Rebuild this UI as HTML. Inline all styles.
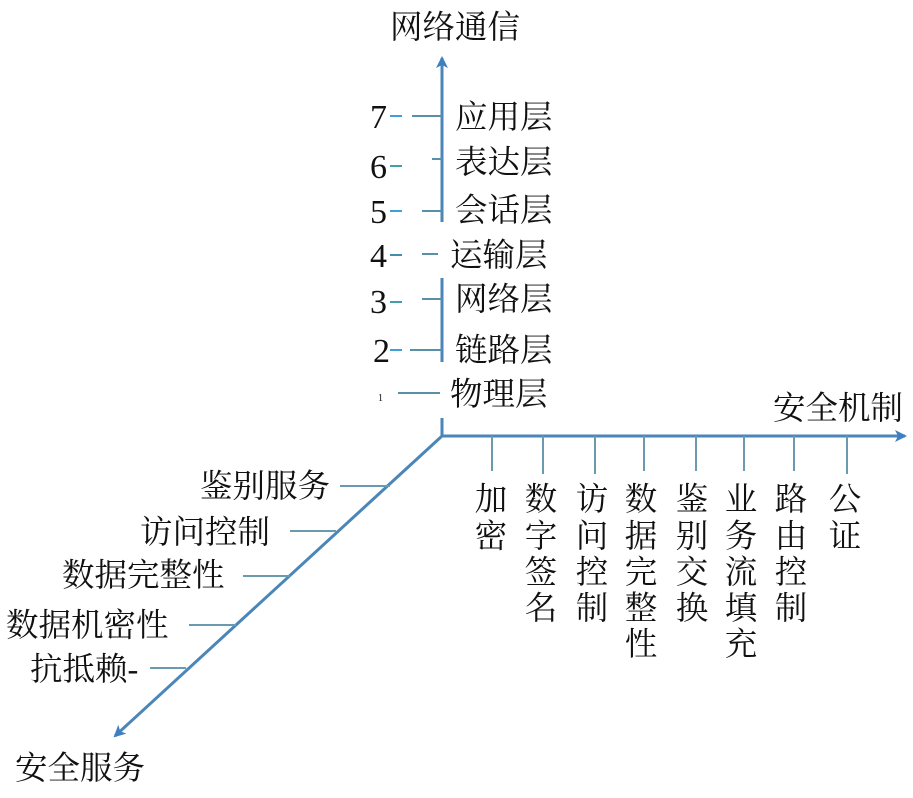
<!DOCTYPE html>
<html><head><meta charset="utf-8"><style>
html,body{margin:0;padding:0;background:#fff;}
svg text{font-family:"Liberation Serif","Noto Serif CJK SC",serif;fill:#111;}
</style></head><body>
<svg width="913" height="793" viewBox="0 0 913 793" xmlns="http://www.w3.org/2000/svg">
<defs>
<marker id="ah" markerWidth="12" markerHeight="12" refX="10" refY="6" orient="auto" markerUnits="userSpaceOnUse">
<path d="M0,0 L12,6 L0,12 L3,6 Z" fill="#3f7fc0"/></marker>
</defs>
<g stroke="#4a86b8" stroke-width="3" fill="none">
<line x1="442" y1="222" x2="442" y2="58" marker-end="url(#ah)"/>
<line x1="442" y1="278" x2="442" y2="362"/>
<line x1="442" y1="418" x2="442" y2="436"/>
<line x1="442" y1="436" x2="905" y2="436" marker-end="url(#ah)"/>
<line x1="442" y1="436" x2="115" y2="736" marker-end="url(#ah)"/>
</g>
<g stroke="#5a8fa8" stroke-width="2">
<line x1="412" y1="116" x2="442" y2="116"/>
<line x1="432" y1="159" x2="442" y2="159"/>
<line x1="422" y1="211" x2="442" y2="211"/>
<line x1="422" y1="254" x2="438" y2="254"/>
<line x1="422" y1="299" x2="442" y2="299"/>
<line x1="410" y1="350" x2="442" y2="350"/>
<line x1="398" y1="393" x2="440" y2="393"/>
<line x1="390" y1="116" x2="402" y2="116" stroke="#3fa0d8"/>
<line x1="390" y1="166" x2="402" y2="166" stroke="#3fa0a8"/>
<line x1="390" y1="211" x2="402" y2="211" stroke="#3fa0d8"/>
<line x1="390" y1="255" x2="402" y2="255" stroke="#3f90a8"/>
<line x1="390" y1="302" x2="402" y2="302" stroke="#3fa0a8"/>
<line x1="390" y1="350" x2="402" y2="350" stroke="#3fa0d8"/>
</g>
<g stroke="#6a9ab0" stroke-width="2">
<line x1="492" y1="436" x2="492" y2="471"/>
<line x1="543" y1="436" x2="543" y2="474"/>
<line x1="595" y1="436" x2="595" y2="474"/>
<line x1="644" y1="436" x2="644" y2="471"/>
<line x1="696" y1="436" x2="696" y2="471"/>
<line x1="744" y1="436" x2="744" y2="471"/>
<line x1="794" y1="436" x2="794" y2="471"/>
<line x1="847" y1="436" x2="847" y2="474"/>
<line x1="340" y1="486" x2="390" y2="486"/>
<line x1="290" y1="531" x2="336" y2="531"/>
<line x1="243" y1="576" x2="290" y2="576"/>
<line x1="189" y1="625" x2="236" y2="625"/>
<line x1="150" y1="668" x2="186" y2="668"/>
</g>
<g font-size="32.5">
<text x="390" y="38">网络通信</text>
<text x="455" y="128">应用层</text>
<text x="455" y="173">表达层</text>
<text x="455" y="221">会话层</text>
<text x="450" y="266">运输层</text>
<text x="455" y="310">网络层</text>
<text x="455" y="361">链路层</text>
<text x="450" y="405">物理层</text>
<text x="773" y="419">安全机制</text>
<text x="200" y="497">鉴别服务</text>
<text x="140" y="543">访问控制</text>
<text x="62" y="586">数据完整性</text>
<text x="6" y="636">数据机密性</text>
<text x="30" y="680">抗抵赖-</text>
<text x="15" y="779">安全服务</text>
</g>
<g font-size="34">
<text x="370" y="128">7</text>
<text x="370" y="178">6</text>
<text x="370" y="223">5</text>
<text x="370" y="267">4</text>
<text x="370" y="313">3</text>
<text x="373" y="362">2</text>
<text x="378" y="401" font-size="10">1</text>
</g>
<g font-size="32.5" text-anchor="middle">
<text x="491" y="510">加</text><text x="491" y="547">密</text>
<text x="541" y="510">数</text><text x="541" y="547">字</text><text x="541" y="583">签</text><text x="541" y="619">名</text>
<text x="592" y="510">访</text><text x="592" y="547">问</text><text x="592" y="583">控</text><text x="592" y="619">制</text>
<text x="641" y="510">数</text><text x="641" y="547">据</text><text x="641" y="583">完</text><text x="641" y="619">整</text><text x="641" y="655">性</text>
<text x="692" y="510">鉴</text><text x="692" y="547">别</text><text x="692" y="583">交</text><text x="692" y="619">换</text>
<text x="741" y="510">业</text><text x="741" y="547">务</text><text x="741" y="583">流</text><text x="741" y="619">填</text><text x="741" y="655">充</text>
<text x="791" y="510">路</text><text x="791" y="547">由</text><text x="791" y="583">控</text><text x="791" y="619">制</text>
<text x="845" y="510">公</text><text x="845" y="547">证</text>
</g>
</svg>
</body></html>
